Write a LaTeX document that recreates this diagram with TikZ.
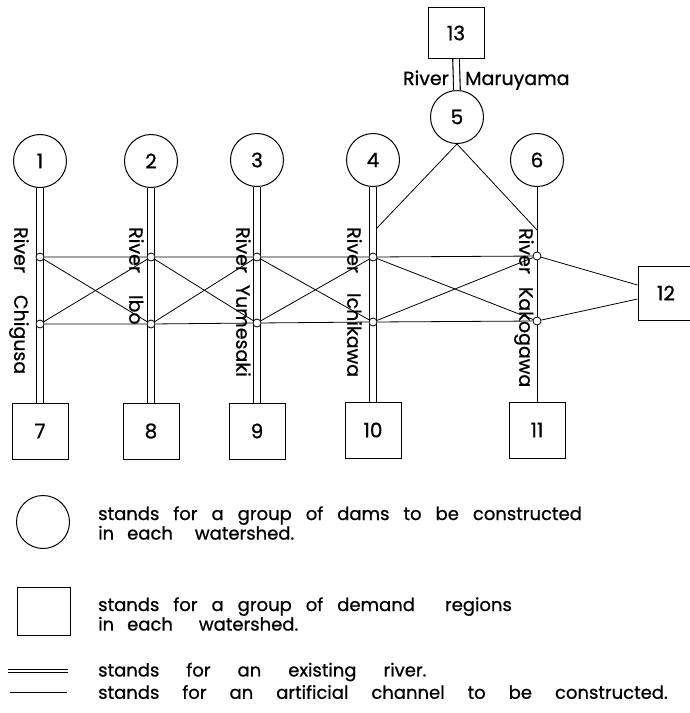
\documentclass[tikz,border=0pt]{standalone}
\usepackage{fontspec}
\setmainfont{Poppins}[FakeBold=0.8]
\usetikzlibrary{calc}
\begin{document}
\begin{tikzpicture}[x=1pt,y=-1pt,
  dam/.style={draw, circle, minimum size=53pt, inner sep=0pt, line width=1pt, font=\fontsize{20}{20}\selectfont},
  dem/.style={draw, rectangle, minimum width=56pt, minimum height=56pt, inner sep=0pt, line width=1pt, font=\fontsize{20}{20}\selectfont},
  jn/.style={draw, circle, fill=white, minimum size=8pt, inner sep=0pt, line width=0.8pt},
  river/.style={draw=black, double=white, double distance=5.5pt, line width=1.1pt},
  chan/.style={line width=0.8pt},
  rlab/.style={rotate=-90, anchor=mid west, inner sep=0pt, font=\fontsize{19}{19}\selectfont},
  lab/.style={inner sep=0pt, font=\fontsize{19}{19}\selectfont},
  leg/.style={anchor=west, align=left, inner sep=0pt, font=\fontsize{18}{18}\selectfont}]
\useasboundingbox (0,0) rectangle (690,713);
% dams
\node[dam] (c1) at (40,161) {1};
\node[dam] (c2) at (151,161) {2};
\node[dam] (c3) at (257,160) {3};
\node[dam] (c4) at (373,160) {4};
\node[dam] (c5) at (457,117) {5};
\node[dam] (c6) at (537,160) {6};
% demand regions
\node[dem, minimum height=51pt] (b13) at (456,33) {13};
\node[dem] (b7) at (40,431) {7};
\node[dem] (b8) at (151,431) {8};
\node[dem] (b9) at (257,431) {9};
\node[dem] (b10) at (373,430) {10};
\node[dem] (b11) at (537,430) {11};
\node[dem, minimum height=54pt] (b12) at (666,293) {12};
% rivers
\draw[river] (c1.south) -- (b7.north);
\draw[river] (c2.south) -- (b8.north);
\draw[river] (c3.south) -- (b9.north);
\draw[river] (c4.south) -- (b10.north);
\draw[river] (b13.south) -- (c5.north);
\draw[chan] (c6.south) -- (b11.north);
% junctions
\node[jn] (u1) at (40,257) {};
\node[jn] (l1) at (40,324) {};
\node[jn] (u2) at (151,257) {};
\node[jn] (l2) at (151,324) {};
\node[jn] (u3) at (257,257) {};
\node[jn] (l3) at (257,323) {};
\node[jn] (u4) at (373,257) {};
\node[jn] (l4) at (373,322) {};
\node[jn] (u6) at (537,256) {};
\node[jn] (l6) at (537,321) {};
% channels
\draw[chan] (u1) -- (u2) -- (u3) -- (u4) -- (u6);
\draw[chan] (l1) -- (l2) -- (l3) -- (l4) -- (l6);
\draw[chan] (u1) -- (l2);
\draw[chan] (l1) -- (u2);
\draw[chan] (u2) -- (l3);
\draw[chan] (l2) -- (u3);
\draw[chan] (u3) -- (l4);
\draw[chan] (l3) -- (u4);
\draw[chan] (u4) -- (l6);
\draw[chan] (l4) -- (u6);
\coordinate (b12a) at ($(b12.west)+(0,-8)$);
\coordinate (b12b) at ($(b12.west)+(0,6)$);
\draw[chan] (u6) -- (b12a);
\draw[chan] (l6) -- (b12b);
\coordinate (r4a) at (377,228);
\coordinate (r6a) at (537,230);
\draw[chan] (c5.south) -- (r4a);
\draw[chan] (c5.south) -- (r6a);
% river labels
\node[lab, anchor=base east] (tRiv) at (449,85) {River};
\node[lab, anchor=base west] (tMar) at (465,85) {Maruyama};
\node[rlab] (t1) at (17,227) {River\hspace{22pt}Chigusa};
\node[rlab] (t2) at (132,227) {River\hspace{22pt}Ibo};
\node[rlab] (t3) at (239,227) {River\hspace{12pt}Yumesaki};
\node[rlab] (t4) at (350,227) {River\hspace{20pt}Ichikawa};
\node[rlab] (t6) at (522,228) {River\hspace{13pt}Kakogawa};
% legend
\node[dam] (lc) at (43,522) {};
\node[leg] (lt1) at (98,523) {stands\hspace{14pt}for\hspace{14pt}a\hspace{14pt}group\hspace{14pt}of\hspace{14pt}dams\hspace{14pt}to\hspace{14pt}be\hspace{14pt}constructed\\in\hspace{13pt}each\hspace{22pt}watershed.};
\node[dem, minimum width=53pt, minimum height=48pt] (lb) at (43.5,611) {};
\node[leg] (lt2) at (98,614) {stands\hspace{14pt}for\hspace{14pt}a\hspace{14pt}group\hspace{14pt}of\hspace{14pt}demand\hspace{30pt}regions\\in\hspace{13pt}each\hspace{26pt}watershed.};
\coordinate (ld1) at (8,671);
\coordinate (ld2) at (68,671);
\draw[draw=black, double=white, double distance=2.4pt, line width=0.9pt] (ld1) -- (ld2);
\node[leg] (lt3) at (98,672) {stands\hspace{27pt}for\hspace{27pt}an\hspace{27pt}existing\hspace{27pt}river.};
\coordinate (ls1) at (10,692);
\coordinate (ls2) at (67,692);
\draw[chan] (ls1) -- (ls2);
\node[leg] (lt4) at (98,692) {stands\hspace{23pt}for\hspace{23pt}an\hspace{23pt}artificial\hspace{23pt}channel\hspace{23pt}to\hspace{23pt}be\hspace{23pt}constructed.};
\end{tikzpicture}
\end{document}
